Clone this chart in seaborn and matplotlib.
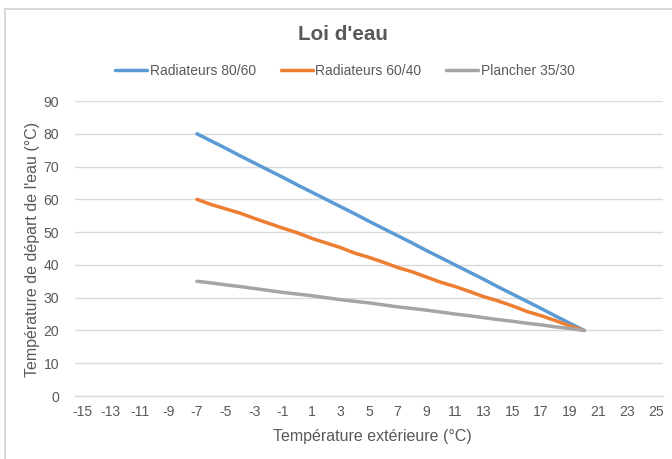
import pandas as pd
import matplotlib
matplotlib.use("Agg")
import matplotlib.pyplot as plt
import seaborn as sns
from matplotlib.patches import Rectangle

# Data
temp_ext = [-7, -6, -5, -4, -3, -2, -1, 0, 1, 2, 3, 4, 5, 6,
            7, 8, 9, 10, 11, 12, 13, 14, 15, 16, 17, 18, 19, 20]
radiateurs_80_60 = [80, 77.8, 75.6, 73.3, 71.1, 68.9, 66.7, 64.4, 62.2, 60, 57.8, 55.6, 53.3, 51.1,
                    48.9, 46.7, 44.4, 42.2, 40, 37.8, 35.6, 33.3, 31.1, 28.9, 26.7, 24.4, 22.2, 20]
radiateurs_60_40 = [60, 58.4, 57.1, 55.8, 54.2, 52.7, 51.2, 49.8, 48.1, 46.7, 45.3, 43.6, 42.3, 40.8,
                    39.2, 37.9, 36.3, 34.7, 33.4, 31.9, 30.3, 29, 27.5, 25.8, 24.5, 23, 21.4, 20]
plancher_35_30 = [35, 34.5, 33.9, 33.4, 32.8, 32.2, 31.6, 31.1, 30.6, 30, 29.4, 28.9, 28.4, 27.8,
                  27.2, 26.7, 26.2, 25.6, 25, 24.5, 23.9, 23.3, 22.8, 22.2, 21.7, 21.1, 20.6, 20]
series_names = ["Radiateurs 80/60", "Radiateurs 60/40", "Plancher 35/30"]
x_ticks = list(range(-15, 26, 2))
y_ticks = [0, 10, 20, 30, 40, 50, 60, 70, 80, 90]

colors = ["#5B9BD5", "#ED7D31", "#A5A5A5"]
text_color = "#595959"
grid_color = "#D9D9D9"

sns.set_style("white")
plt.rcParams['font.family'] = ['Liberation Sans', 'DejaVu Sans']
plt.rcParams['axes.unicode_minus'] = False

# long-form frame for seaborn
frames = []
for name, vals in zip(series_names, [radiateurs_80_60, radiateurs_60_40, plancher_35_30]):
    frames.append(pd.DataFrame({"T_ext": temp_ext, "T_dep": vals, "Série": name}))
df = pd.concat(frames, ignore_index=True)

W, H, DPI = 672, 459, 96
fig = plt.figure(figsize=(W / DPI, H / DPI), dpi=DPI)
ax = fig.add_axes([75 / W, 1 - 396 / H, (663 - 75) / W, (396 - 101) / H])

sns.lineplot(data=df, x="T_ext", y="T_dep", hue="Série", hue_order=series_names,
             palette=colors, linewidth=2.6, ax=ax, legend=False, sort=False)

ax.set_xlim(-15.5, 25.5)
ax.set_ylim(0, 90)
ax.set_xticks(x_ticks)
ax.set_yticks(y_ticks)
ax.tick_params(axis="both", length=0, labelsize=10.5, colors=text_color)
ax.tick_params(axis="x", pad=7)
ax.tick_params(axis="y", pad=12)
ax.yaxis.grid(True, color=grid_color, linewidth=1)
ax.xaxis.grid(False)
ax.set_axisbelow(True)
for side in ["top", "right", "left"]:
    ax.spines[side].set_visible(False)
ax.spines["bottom"].set_color(grid_color)
ax.spines["bottom"].set_linewidth(1)

ax.set_xlabel("Température extérieure (°C)", fontsize=12, color=text_color)
ax.set_ylabel("Température de départ de l'eau (°C)", fontsize=12, color=text_color)
ax.xaxis.label.set_va("center")
ax.yaxis.label.set_va("center")
ax.xaxis.set_label_coords((372 - 75) / 588, (396 - 437) / 295)
ax.yaxis.set_label_coords((33 - 75) / 588, (396 - 249) / 295)

fig.text(343 / W, 1 - 34 / H, "Loi d'eau", ha="center", va="center",
         fontsize=15.5, fontweight="bold", color=text_color)

handles = [plt.Line2D([], [], color=c, linewidth=2.6) for c in colors]
fig.legend(handles, series_names, loc="center", bbox_to_anchor=(345 / W, 1 - 71 / H),
           ncol=3, frameon=False, fontsize=10.4, handlelength=2.3, handletextpad=0.2,
           columnspacing=1.8, labelcolor=text_color, borderaxespad=0, borderpad=0)

# chart border (only top and left edges fall inside the picture)
fig.patches.append(Rectangle((5 / W, -20 / H), 700 / W, (459 - 9 + 20) / H,
                             transform=fig.transFigure, fill=False,
                             edgecolor=grid_color, linewidth=1.5))

fig.savefig("out.png", dpi=DPI)
